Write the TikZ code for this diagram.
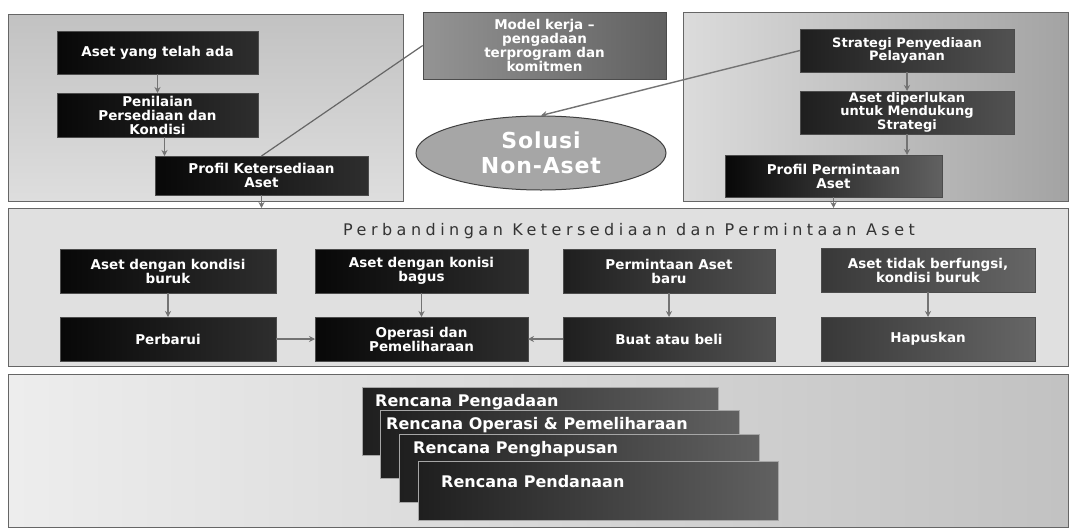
\documentclass[tikz,border=0pt]{standalone}
\usepackage{fontspec}
\setmainfont{DejaVu Sans}
\newfontfamily\ttlfont[LetterSpace=28]{DejaVu Sans}
\newfontfamily\solfont[LetterSpace=4]{DejaVu Sans}
\usetikzlibrary{arrows.meta,shapes.geometric,calc}
\begin{document}
\begin{tikzpicture}[x=1pt,y=-1pt,
  panel/.style={rectangle, draw=black!60, line width=0.8pt, inner sep=0pt, outer sep=0pt},
  blk/.style={rectangle, draw=black!70, line width=0.6pt, left color=black!97, right color=black!82,
     text=white, font=\bfseries\fontsize{13.5}{14}\selectfont, align=center, inner sep=0pt, outer sep=0pt},
  dgr/.style={blk, left color=black!88, right color=black!68},
  conn/.style={draw=black!55, line width=1.4pt, -{Stealth[length=6pt,width=6pt]}},
  lnk/.style={draw=black!60, line width=1.2pt},
  rbox/.style={rectangle, draw=black!35, line width=1pt, left color=black!88, right color=black!62,
     inner sep=0pt, outer sep=0pt},
  rtxt/.style={text=white, font=\bfseries\fontsize{16}{18}\selectfont, inner sep=0pt, anchor=west}
]
\useasboundingbox (0,0) rectangle (1075,530);
\fill[white] (0,0) rectangle (1075,530);

% panels
\node[panel, top color=black!24, bottom color=black!13, minimum width=395, minimum height=187] (pTL) at (205.5,107.5) {};
\node[panel, left color=black!14, right color=black!36, minimum width=385, minimum height=189] (pTR) at (875.5,106.5) {};
\node[panel, fill=black!12, minimum width=1060, minimum height=158] (pM) at (538,287) {};
\node[panel, left color=black!7, right color=black!24, minimum width=1060, minimum height=153] (pB) at (538,450.5) {};

% top-left column
\node[blk, minimum width=201, minimum height=43] (a1) at (157.5,52.5) {Aset yang telah ada};
\node[blk, minimum width=201, minimum height=44] (a2) at (157.5,115) {Penilaian\\Persediaan dan\\Kondisi};
\node[blk, minimum width=213, minimum height=39] (a3) at (261.5,175.5) {Profil Ketersediaan\\Aset};

% middle top
\node[rectangle, draw=black!70, line width=0.6pt, left color=black!42, right color=black!62,
  text=white, font=\bfseries\fontsize{13.5}{13}\selectfont, align=center,
  minimum width=243, minimum height=67, inner sep=0pt] (mk) at (544.5,45.5)
  {Model kerja --\\pengadaan\\terprogram dan\\komitmen};
\node[ellipse, draw=black!75, line width=1pt, fill=black!35, text=white,
  font=\solfont\bfseries\fontsize{22}{25}\selectfont, align=center,
  minimum width=250, minimum height=74, inner sep=0pt] (sol) at (541,153) {Solusi\\Non-Aset};

% top-right column
\node[dgr, minimum width=214, minimum height=43, font=\bfseries\fontsize{13}{13.5}\selectfont] (b1) at (907,50.5) {Strategi Penyediaan\\Pelayanan};
\node[dgr, minimum width=214, minimum height=43, font=\bfseries\fontsize{13}{12.5}\selectfont] (b2) at (907,112.5) {Aset diperlukan\\untuk Mendukung\\Strategi};
\node[blk, minimum width=217, minimum height=42, right color=black!62] (b3) at (833.5,176) {Profil Permintaan\\Aset};

% top connectors
\draw[lnk] (mk.west) -- (a3.north);
\draw[conn] (b1.west) -- (sol.north);
\draw[conn] (a1.south) -- (a2.north);
\draw[conn] ([xshift=7pt]a2.south) -- ([xshift=7pt]a2.south |- a3.north);
\draw[conn] (b1.south) -- (b2.north);
\draw[conn] (b2.south) -- (b2.south |- b3.north);
\draw[conn] (a3.south) -- (a3.south |- pM.north);
\draw[conn] (b3.south) -- (b3.south |- pM.north);

% middle section
\node[text=black!80, font=\ttlfont\fontsize{16}{18}\selectfont, inner sep=0pt] (ttl) at (629,231)
  {Perbandingan Ketersediaan dan Permintaan Aset};
\node[blk, minimum width=216, minimum height=44] (m1) at (168,271) {Aset dengan kondisi\\buruk};
\node[blk, minimum width=216, minimum height=44] (m2) at (168,339) {Perbarui};
\node[blk, minimum width=213, minimum height=44] (m3) at (421.5,271) {Aset dengan konisi\\bagus};
\node[blk, minimum width=213, minimum height=44] (m4) at (421.5,339) {Operasi dan\\Pemeliharaan};
\node[dgr, minimum width=212, minimum height=44] (m5) at (669,271) {Permintaan Aset\\baru};
\node[dgr, minimum width=212, minimum height=44] (m6) at (669,339) {Buat atau beli};
\node[dgr, minimum width=214, minimum height=44, left color=black!78, right color=black!60] (m7) at (928,270) {Aset tidak berfungsi,\\kondisi buruk};
\node[dgr, minimum width=214, minimum height=44, left color=black!78, right color=black!60] (m8) at (928,339) {Hapuskan};

\draw[conn] (m1.south) -- (m2.north);
\draw[conn] (m3.south) -- (m4.north);
\draw[conn] (m5.south) -- (m6.north);
\draw[conn] (m7.south) -- (m8.north);
\draw[conn] (m2.east) -- (m4.west);
\draw[conn] (m6.west) -- (m4.east);

% bottom stacked plans
\node[rbox, minimum width=356, minimum height=68] (r1) at (540,421) {};
\node[rtxt] (r1t) at ($(r1.north west)+(13,15)$) {Rencana Pengadaan};
\node[rbox, minimum width=359, minimum height=68] (r2) at (559.5,444) {};
\node[rtxt] (r2t) at ($(r2.north west)+(6,15)$) {Rencana Operasi \& Pemeliharaan};
\node[rbox, minimum width=360, minimum height=68] (r3) at (579,468) {};
\node[rtxt] (r3t) at ($(r3.north west)+(14,15)$) {Rencana Penghapusan};
\node[rbox, minimum width=360, minimum height=59] (r4) at (598,490.5) {};
\node[rtxt] (r4t) at ($(r4.north west)+(23,21)$) {Rencana Pendanaan};
\end{tikzpicture}
\end{document}
